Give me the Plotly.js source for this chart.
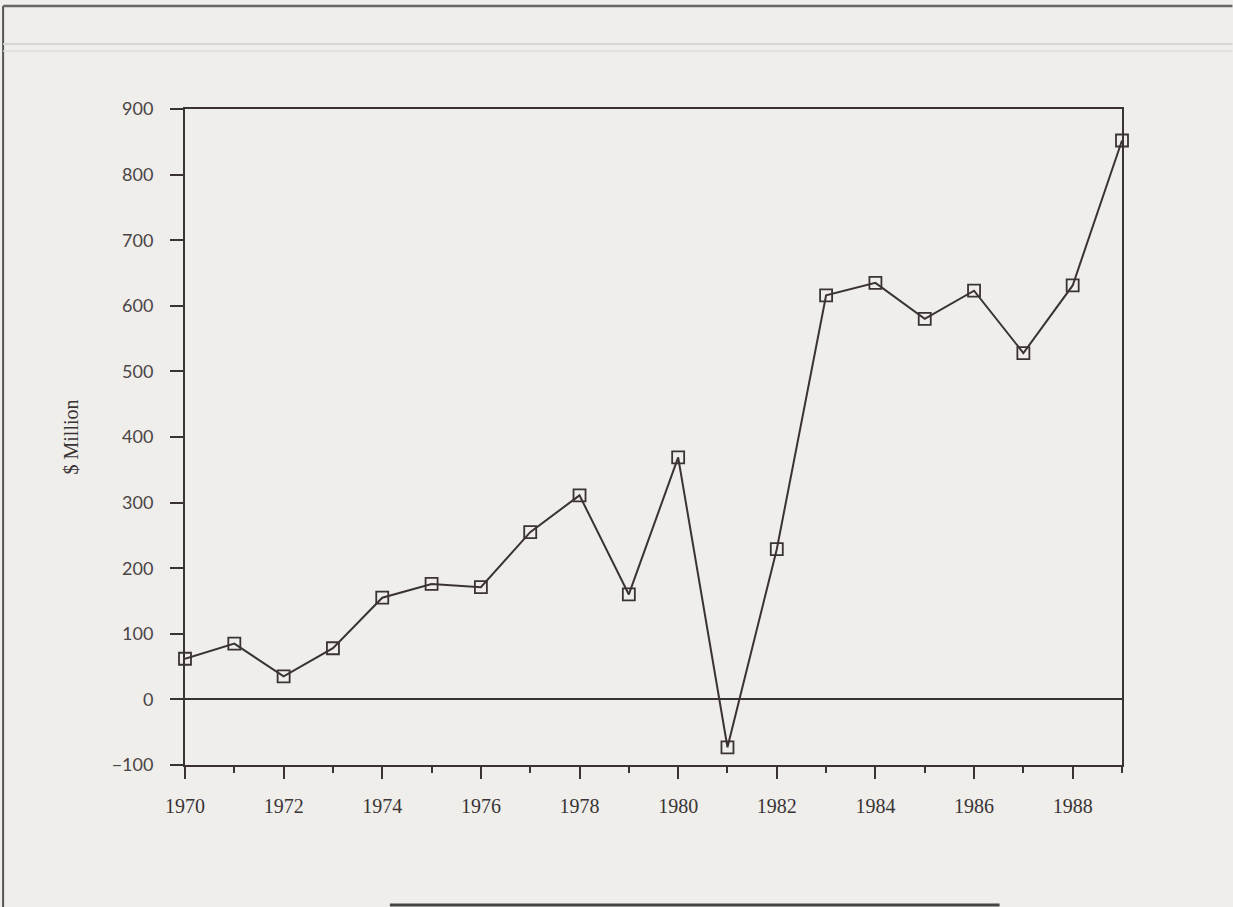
<!DOCTYPE html>
<html>
<head>
<meta charset="utf-8">
<script src="https://cdn.plot.ly/plotly-3.0.1.min.js"></script>
<style>
  html, body { margin: 0; padding: 0; background: #efeeea; }
  #chart { width: 1233px; height: 907px; }
</style>
</head>
<body>
<div id="chart"></div>
<script>
// Data
const years = [1970, 1971, 1972, 1973, 1974, 1975, 1976, 1977, 1978, 1979,
               1980, 1981, 1982, 1983, 1984, 1985, 1986, 1987, 1988, 1989];
const millions = [62, 85, 35, 78, 155, 176, 171, 255, 311, 160,
                  369, -73, 229, 616, 635, 580, 623, 528, 631, 852];
const yTickValues = [-100, 0, 100, 200, 300, 400, 500, 600, 700, 800, 900];
const xTickValues = [1970, 1972, 1974, 1976, 1978, 1980, 1982, 1984, 1986, 1988];
const yTitle = "$ Million";

const ink = "#3b3236";
const W = 1233, H = 907;
const L = 185, R = 110.5, T = 109, B = 142;
const pw = W - L - R, ph = H - T - B;
const px = v => (v - L) / pw;          // page pixel -> paper x
const py = v => (H - B - v) / ph;      // page pixel -> paper y

const trace = {
  x: years,
  y: millions,
  type: "scatter",
  mode: "lines+markers",
  line: { color: ink, width: 2 },
  marker: { symbol: "square-open", size: 12, color: ink, line: { width: 1.8, color: ink } },
  cliponaxis: false,
  hoverinfo: "x+y"
};

const layout = {
  width: W, height: H,
  margin: { l: L, r: R, t: T, b: B },
  paper_bgcolor: "#efeeea",
  plot_bgcolor: "#efeeea",
  showlegend: false,
  xaxis: {
    range: [1970, 1989],
    tickvals: xTickValues,
    ticktext: xTickValues.map(String),
    ticks: "outside", ticklen: 12, tickwidth: 2, tickcolor: ink,
    minor: { dtick: 1, tick0: 1970, ticks: "outside", ticklen: 6, tickwidth: 2, tickcolor: ink },
    showline: true, linecolor: ink, linewidth: 2, mirror: true,
    showgrid: false, zeroline: false,
    ticklabelstandoff: 10,
    tickfont: { family: "Liberation Serif", size: 20, color: "#3a3436" }
  },
  yaxis: {
    range: [-100, 900],
    tickvals: yTickValues,
    ticks: "outside", ticklen: 13, tickwidth: 2, tickcolor: ink,
    showline: true, linecolor: ink, linewidth: 2, mirror: true,
    showgrid: false,
    zeroline: true, zerolinecolor: ink, zerolinewidth: 2,
    ticklabelstandoff: 13,
    tickfont: { family: "Lato", size: 18, color: "#4a4446" },
    title: { text: yTitle, standoff: 28, font: { family: "Liberation Serif", size: 20, color: "#3a3436" } }
  },
  shapes: [
    // page frame of the scanned sheet
    { type: "line", xref: "paper", yref: "paper", x0: px(3), x1: px(3), y0: py(6), y1: py(907), line: { color: "#555", width: 2 } },
    { type: "line", xref: "paper", yref: "paper", x0: px(3), x1: px(1233), y0: py(6), y1: py(6), line: { color: "#666", width: 2.5 } },
    { type: "line", xref: "paper", yref: "paper", x0: px(3), x1: px(1233), y0: py(44), y1: py(44), line: { color: "#d6d6d2", width: 2 } },
    { type: "line", xref: "paper", yref: "paper", x0: px(3), x1: px(1233), y0: py(51), y1: py(51), line: { color: "#dcdcd8", width: 1.5 } },
    { type: "line", xref: "paper", yref: "paper", x0: px(390), x1: px(1000), y0: py(905), y1: py(905), line: { color: "#444", width: 3 } }
  ]
};

Plotly.newPlot("chart", [trace], layout, { displayModeBar: false, staticPlot: true });
</script>
</body>
</html>
